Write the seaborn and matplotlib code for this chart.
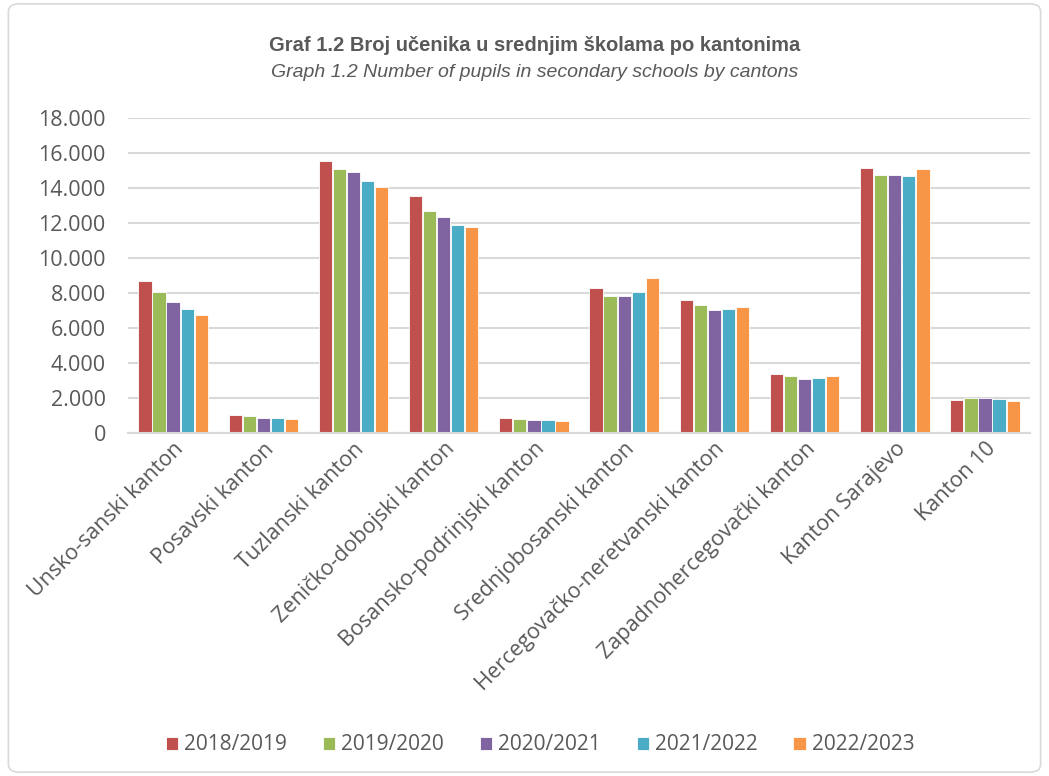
import numpy as np
import pandas as pd
import matplotlib
matplotlib.use("Agg")
import matplotlib.pyplot as plt
import seaborn as sns
from matplotlib.patches import FancyBboxPatch
from matplotlib.ticker import FuncFormatter

# Cantons and school years
cantons = ["Unsko-sanski kanton", "Posavski kanton", "Tuzlanski kanton",
           "Zeničko-dobojski kanton", "Bosansko-podrinjski kanton",
           "Srednjobosanski kanton", "Hercegovačko-neretvanski kanton",
           "Zapadnohercegovački kanton", "Kanton Sarajevo", "Kanton 10"]
years = ["2018/2019", "2019/2020", "2020/2021", "2021/2022", "2022/2023"]

# Pupils per canton
y2018 = [8700, 1030, 15560, 13550, 880, 8310, 7610, 3370, 15140, 1900]
y2019 = [8030, 970, 15060, 12660, 820, 7850, 7320, 3260, 14740, 2020]
y2020 = [7490, 880, 14910, 12340, 760, 7850, 7040, 3110, 14760, 2020]
y2021 = [7070, 860, 14380, 11890, 720, 8080, 7110, 3160, 14680, 1920]
y2022 = [6770, 800, 14070, 11750, 690, 8830, 7220, 3260, 15080, 1810]

colors = ["#C0504D", "#9BBB59", "#8064A2", "#4BACC6", "#F79646"]

df = pd.DataFrame({"kanton": cantons * 5,
                   "godina": np.repeat(years, len(cantons)),
                   "ucenika": y2018 + y2019 + y2020 + y2021 + y2022})

sns.set_style("white")
plt.rcParams["font.family"] = ["Open Sans", "DejaVu Sans"]

fig = plt.figure(figsize=(10.49, 7.76), dpi=100)
ax = fig.add_axes([0.122, 0.442, 0.86, 0.406])

sns.barplot(data=df, x="kanton", y="ucenika", hue="godina", palette=colors,
            saturation=1, width=0.78, gap=0.06, edgecolor="white",
            linewidth=0.6, ax=ax)

ax.set_ylim(0, 18000)
ax.set_yticks(range(0, 18001, 2000))
ax.yaxis.set_major_formatter(FuncFormatter(lambda v, p: f"{int(v):,}".replace(",", ".")))
ax.grid(axis="y", color="#D9D9D9", linewidth=1.5)
ax.set_axisbelow(True)
for s in ["top", "right", "left"]:
    ax.spines[s].set_visible(False)
ax.spines["bottom"].set_color("#D9D9D9")
ax.spines["bottom"].set_linewidth(1.5)
ax.set_xlabel("")
ax.set_ylabel("")
ax.tick_params(axis="y", labelsize=15.5, labelcolor="#595959", length=0, pad=16)
ax.tick_params(axis="x", labelsize=15.5, labelcolor="#595959", length=0, pad=4)
plt.setp(ax.get_xticklabels(), rotation=45, ha="right", rotation_mode="anchor")

ax.legend(loc="center", bbox_to_anchor=(0.515, 0.04), bbox_transform=fig.transFigure,
          ncol=5, frameon=False, fontsize=15, handlelength=0.6, handleheight=0.6,
          handletextpad=0.3, columnspacing=1.7, labelcolor="#595959")

fig.text(0.51, 0.942, "Graf 1.2 Broj učenika u srednjim školama po kantonima",
         ha="center", va="center", fontsize=14.5, fontweight="bold",
         color="#595959", family="Liberation Sans")
fig.text(0.51, 0.907, "Graph 1.2 Number of pupils in secondary schools by cantons",
         ha="center", va="center", fontsize=14, style="italic",
         color="#595959", family="Liberation Sans")

# light frame around the chart
fig.patches.append(FancyBboxPatch((0.008, 0.005), 0.984, 0.99,
                                  boxstyle="round,pad=0,rounding_size=0.01",
                                  transform=fig.transFigure, fill=False,
                                  edgecolor="#D9D9D9", linewidth=1.2))

fig.savefig("out.png", dpi=100)
